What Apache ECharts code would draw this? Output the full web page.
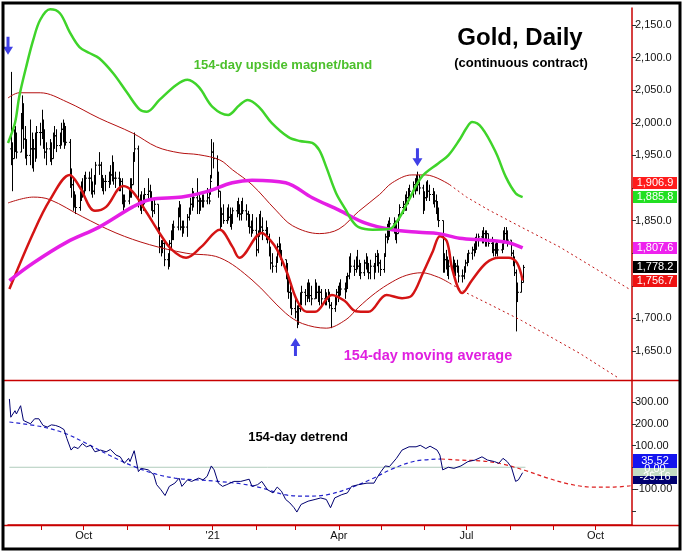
<!DOCTYPE html>
<html><head><meta charset="utf-8">
<script src="https://cdn.jsdelivr.net/npm/echarts@6/dist/echarts.min.js"></script>
<style>html,body{margin:0;padding:0;background:#fff}#c{width:684px;height:553px}</style>
</head><body><div id="c"></div>
<script>
const FONT = '"Liberation Sans", Arial, Helvetica, sans-serif';

// ---- daily price bars (one entry per weekday from startDate) ----
const startDate = '2020-08-10';
const highs = [
2078,1970,1990,1995,1985, 2015,2042,2030,1995,1975, 2005,1985,1975,1985,1995, 2000,2020,2005,1990,1970,
1975,1970,1985,1995,1990, 1985,2000,2005,2000,1995, 1975,1930,1915,1895,1890, 1895,1910,1915,1920,1925,
1925,1930,1910,1920,1940, 1955,1940,1920,1915,1920, 1925,1935,1950,1940,1925, 1925,1915,1915,1890,1890,
1900,1915,1915,1955,1985, 1965,1890,1895,1890,1900, 1915,1905,1895,1880,1885, 1875,1840,1820,1820,1820,
1800,1820,1835,1845,1850, 1870,1880,1875,1850,1850, 1860,1870,1885,1900,1895, 1915,1890,1885,1890,1890,
1900,1895,1920,1975,1970, 1950,1925,1895,1870,1875, 1870,1875,1870,1860,1870, 1880,1885,1875,1880,1885,
1875,1865,1860,1850,1860, 1855,1835,1860,1865,1855, 1850,1840,1830,1810,1800, 1795,1815,1825,1815,1805,
1790,1785,1760,1750,1740, 1730,1720,1725,1740,1750, 1745,1755,1760,1755,1750, 1760,1755,1750,1750,1745,
1745,1740,1745,1740,1725, 1735,1745,1750,1755,1760, 1755,1765,1770,1795,1800, 1790,1795,1805,1790,1785,
1790,1800,1795,1785,1790, 1785,1800,1805,1800,1790, 1800,1830,1845,1850,1855, 1855,1850,1845,1860,1875,
1880,1890,1895,1900,1905, 1910,1915,1920,1925,1920, 1905,1895,1910,1912,1905, 1900,1895,1890,1880,1870,
1850,1800,1805,1795,1790, 1795,1790,1785,1790,1780, 1775,1780,1790,1800,1805, 1810,1815,1825,1830,1830,
1835,1840,1835,1835,1830, 1825,1820,1815,1820,1815, 1815,1835,1840,1840,1835, 1820,1805,1795,1775,1755,
1765,1782];
const lows = [
1935,1895,1945,1955,1945, 1955,1990,1960,1945,1935, 1935,1930,1925,1940,1945, 1965,1975,1960,1945,1935,
1940,1935,1945,1960,1955, 1960,1965,1970,1960,1965, 1900,1885,1865,1870,1860, 1865,1880,1885,1890,1895,
1895,1890,1885,1890,1905, 1920,1900,1895,1890,1895, 1900,1905,1910,1905,1900, 1895,1895,1875,1865,1870,
1875,1885,1885,1905,1940, 1870,1865,1860,1865,1875, 1880,1880,1865,1855,1860, 1830,1800,1795,1800,1780,
1775,1780,1805,1820,1820, 1835,1855,1835,1825,1830, 1825,1850,1860,1865,1870, 1860,1860,1865,1870,1870,
1875,1875,1890,1915,1930, 1900,1885,1836,1840,1845, 1845,1850,1840,1836,1845, 1855,1860,1850,1850,1860,
1850,1840,1830,1825,1830, 1795,1800,1825,1830,1820, 1820,1815,1795,1775,1770, 1770,1785,1795,1790,1780,
1760,1740,1730,1715,1705, 1700,1685,1690,1710,1720, 1720,1725,1730,1725,1720, 1730,1730,1725,1720,1720,
1720,1720,1725,1715,1685, 1710,1720,1725,1730,1735, 1730,1740,1745,1760,1770, 1765,1770,1775,1765,1760,
1765,1775,1770,1760,1760, 1760,1770,1780,1770,1765, 1770,1795,1815,1820,1825, 1830,1820,1815,1830,1850,
1860,1865,1865,1875,1880, 1885,1890,1895,1895,1890, 1860,1865,1880,1885,1880, 1875,1870,1860,1850,1840,
1770,1770,1775,1765,1760, 1770,1765,1765,1770,1755, 1755,1760,1770,1780,1785, 1790,1795,1800,1805,1810,
1815,1815,1810,1810,1810, 1800,1795,1795,1800,1795, 1800,1805,1815,1815,1810, 1795,1780,1765,1680,1725,
1740,1755];
const closes = [
1960,1945,1970,1965,1955, 2000,2025,1975,1965,1950, 1960,1945,1960,1950,1985, 1985,1995,1970,1955,1960,
1955,1945,1975,1980,1965, 1975,1990,1985,1975,1970, 1915,1905,1875,1880,1870, 1885,1900,1895,1910,1915,
1915,1900,1895,1910,1935, 1935,1910,1905,1910,1910, 1915,1920,1935,1915,1915, 1905,1910,1880,1875,1880,
1895,1910,1905,1950,1960, 1875,1880,1870,1880,1890, 1895,1890,1870,1865,1875, 1835,1810,1810,1815,1790,
1780,1815,1830,1840,1840, 1865,1870,1840,1835,1840, 1855,1860,1875,1890,1885, 1880,1875,1880,1885,1880,
1885,1880,1910,1955,1945, 1915,1895,1850,1860,1850, 1860,1855,1845,1850,1865, 1870,1865,1860,1875,1865,
1860,1850,1840,1845,1835, 1805,1830,1850,1840,1835, 1830,1825,1800,1785,1780, 1790,1810,1805,1800,1790,
1770,1750,1740,1725,1715, 1710,1700,1715,1730,1740, 1735,1745,1740,1735,1730, 1750,1740,1735,1740,1730,
1735,1730,1740,1720,1715, 1730,1740,1735,1750,1745, 1745,1760,1765,1785,1780, 1775,1790,1780,1775,1770,
1785,1780,1775,1770,1780, 1775,1795,1790,1785,1775, 1795,1825,1835,1830,1845, 1840,1835,1830,1855,1870,
1875,1880,1885,1890,1895, 1905,1900,1910,1905,1900, 1870,1885,1900,1895,1890, 1885,1880,1870,1860,1850,
1780,1790,1785,1775,1780, 1785,1775,1780,1780,1765, 1765,1775,1785,1795,1800, 1805,1810,1815,1820,1825,
1825,1830,1820,1830,1815, 1810,1805,1800,1815,1805, 1810,1825,1830,1825,1820, 1800,1790,1770,1735,1740,
1755,1778.2];

// ---- overlay curves ----
const magnetBand = [
['2020-08-08',1969],['2020-08-13',2000],['2020-08-16',2040],['2020-08-21',2086],['2020-08-26',2127],['2020-08-31',2158],
['2020-09-07',2174],['2020-09-14',2168],['2020-09-21',2139],['2020-09-28',2116],['2020-10-05',2107],['2020-10-12',2099],
['2020-10-22',2076],['2020-11-01',2046],['2020-11-10',2020],['2020-11-15',2017],['2020-11-24',2035],['2020-12-06',2058],
['2020-12-14',2066],['2020-12-22',2055],['2021-01-01',2024],['2021-01-12',2012],['2021-01-20',2027],['2021-01-26',2035],
['2021-02-03',2024],['2021-02-12',2000],['2021-02-24',1978],['2021-03-04',1972],['2021-03-13',1969],['2021-03-18',1958],
['2021-03-23',1932],['2021-03-30',1892],['2021-04-06',1866],['2021-04-10',1851],['2021-04-15',1840],['2021-04-25',1836],
['2021-05-07',1837],['2021-05-14',1854],['2021-05-21',1882],['2021-05-30',1917],['2021-06-11',1938],['2021-06-18',1950],
['2021-06-26',1974],['2021-07-01',1992],['2021-07-05',2001],['2021-07-12',1992],['2021-07-22',1954],['2021-07-29',1917],
['2021-08-05',1892],['2021-08-10',1886]];
const upperBand = [
['2020-08-08',2038],['2020-08-16',2046],['2020-08-31',2046],['2020-09-19',2032],['2020-10-12',2007],['2020-11-05',1984],
['2020-11-22',1963],['2020-12-08',1954],['2020-12-22',1951],['2021-01-06',1943],['2021-01-15',1928],['2021-01-29',1905],
['2021-02-15',1866],['2021-02-27',1842],['2021-03-18',1830],['2021-04-01',1837],['2021-04-15',1864],['2021-04-30',1890],
['2021-05-09',1908],['2021-05-23',1920],['2021-06-02',1920],['2021-06-19',1905]];
const upperProjection = [['2021-06-19',1905],['2021-07-01',1886],['2021-07-17',1866],['2021-08-09',1840],['2021-09-05',1810],['2021-10-25',1745]];
const lowerBand = [
['2020-08-08',1877],['2020-08-26',1886],['2020-09-07',1882],['2020-09-30',1856],['2020-10-24',1831],['2020-11-17',1813],
['2020-12-13',1800],['2021-01-06',1793],['2021-01-29',1759],['2021-02-22',1708],['2021-03-06',1692],['2021-03-23',1685],
['2021-04-06',1698],['2021-04-15',1717],['2021-04-27',1739],['2021-05-09',1756],['2021-05-19',1766],['2021-05-30',1770],
['2021-06-11',1763],['2021-06-19',1754]];
const lowerProjection = [['2021-06-19',1754],['2021-07-01',1739],['2021-07-17',1722],['2021-08-09',1697],['2021-09-20',1646],['2021-10-17',1609]];
const cycleLine = [
['2020-08-09',1745],['2020-08-26',1831],['2020-09-07',1882],['2020-09-21',1920],['2020-09-28',1902],['2020-10-09',1865],
['2020-10-17',1871],['2020-10-29',1903],['2020-11-05',1894],['2020-11-15',1862],['2020-11-24',1831],['2020-12-03',1805],
['2020-12-13',1793],['2020-12-24',1810],['2021-01-06',1836],['2021-01-15',1810],['2021-01-20',1793],['2021-02-05',1831],
['2021-02-11',1820],['2021-02-16',1805],['2021-02-23',1770],['2021-03-02',1728],['2021-03-09',1710],['2021-03-15',1710],
['2021-03-27',1736],['2021-04-05',1727],['2021-04-13',1711],['2021-04-22',1710],['2021-05-05',1736],['2021-05-16',1731],
['2021-05-23',1735],['2021-05-31',1770],['2021-06-07',1803],['2021-06-12',1826],['2021-06-17',1818],['2021-06-21',1774],
['2021-06-28',1739],['2021-07-05',1759],['2021-07-15',1785],['2021-07-24',1793],['2021-07-31',1793],['2021-08-06',1785],
['2021-08-10',1758]];
const movingAverage = [
['2020-08-09',1758],['2020-08-26',1785],['2020-09-19',1817],['2020-10-12',1840],['2020-11-05',1871],['2020-11-17',1882],
['2020-12-10',1886],['2020-12-27',1894],['2021-01-15',1908],['2021-01-29',1912],['2021-02-22',1908],['2021-03-13',1885],
['2021-04-01',1866],['2021-04-20',1846],['2021-05-09',1836],['2021-05-28',1832],['2021-06-11',1830],['2021-06-26',1823],
['2021-07-15',1820],['2021-07-31',1816],['2021-08-10',1808]];

// ---- detrend panel ----
const detrend = [
['2020-08-09',314],['2020-08-10',230],['2020-08-13',260],['2020-08-14',245],['2020-08-17',283],['2020-08-19',215],
['2020-08-24',200],['2020-08-27',223],['2020-08-30',223],['2020-09-02',192],['2020-09-05',185],['2020-09-08',195],
['2020-09-11',192],['2020-09-14',185],['2020-09-17',173],['2020-09-19',132],['2020-09-22',79],['2020-09-24',94],
['2020-09-27',86],['2020-09-30',109],['2020-10-03',94],['2020-10-06',101],['2020-10-09',71],['2020-10-13',79],
['2020-10-17',71],['2020-10-20',82],['2020-10-24',56],['2020-10-27',48],['2020-10-30',18],['2020-11-02',41],
['2020-11-03',26],['2020-11-06',76],['2020-11-09',-20],['2020-11-11',-5],['2020-11-16',-12],['2020-11-20',-35],
['2020-11-22',-80],['2020-11-25',-103],['2020-11-28',-130],['2020-12-01',-88],['2020-12-05',-73],['2020-12-08',-50],
['2020-12-10',-88],['2020-12-14',-58],['2020-12-17',-65],['2020-12-22',-50],['2020-12-25',-58],['2020-12-28',-42],
['2020-12-31',6],['2021-01-02',-12],['2021-01-05',-73],['2021-01-08',-88],['2021-01-11',-80],['2021-01-16',-65],
['2021-01-21',-65],['2021-01-27',-55],['2021-01-29',-88],['2021-02-02',-80],['2021-02-05',-65],['2021-02-09',-103],
['2021-02-13',-118],['2021-02-16',-91],['2021-02-19',-110],['2021-02-22',-148],['2021-02-25',-164],['2021-02-28',-186],
['2021-03-02',-206],['2021-03-05',-171],['2021-03-10',-156],['2021-03-15',-148],['2021-03-19',-141],['2021-03-23',-148],
['2021-03-26',-186],['2021-03-29',-141],['2021-04-03',-126],['2021-04-07',-118],['2021-04-10',-88],['2021-04-15',-80],
['2021-04-21',-73],['2021-04-26',-73],['2021-04-28',-50],['2021-05-01',-20],['2021-05-04',6],['2021-05-07',3],
['2021-05-12',41],['2021-05-16',79],['2021-05-21',94],['2021-05-26',94],['2021-05-29',101],['2021-06-02',86],
['2021-06-05',97],['2021-06-10',79],['2021-06-12',56],['2021-06-14',-12],['2021-06-18',0],['2021-06-22',-5],
['2021-06-27',6],['2021-07-02',26],['2021-07-07',33],['2021-07-12',48],['2021-07-16',33],['2021-07-21',26],
['2021-07-24',18],['2021-07-27',41],['2021-07-30',26],['2021-08-02',0],['2021-08-05',-65],['2021-08-07',-58],
['2021-08-10',-25]];
const detrendSmooth = [
['2020-08-09',208],['2020-09-02',185],['2020-09-18',155],['2020-10-03',109],['2020-10-19',56],['2020-11-03',11],
['2020-11-19',-27],['2020-12-05',-50],['2020-12-21',-58],['2021-01-05',-65],['2021-01-21',-76],['2021-02-05',-95],
['2021-02-21',-126],['2021-03-09',-133],['2021-03-24',-126],['2021-04-09',-95],['2021-04-24',-55],['2021-05-10',-5],
['2021-05-26',29],['2021-06-13',38]];
const detrendProjection = [
['2021-06-13',38],['2021-06-26',33],['2021-07-12',29],['2021-07-27',14],['2021-08-12',-15],['2021-08-28',-50],
['2021-09-12',-77],['2021-09-28',-91],['2021-10-14',-91],['2021-10-26',-85]];
const zeroLine = [['2020-08-09',0],['2021-08-12',0]];

// ---- ticks, labels, markers ----
const priceTicks = [1650,1700,1750,1800,1850,1900,1950,2000,2050,2100,2150];
const priceTickLabels = [1650,1700,1850,1950,2000,2050,2100,2150];
const detrendTicks = [300,200,100,0,-100,-200];
const detrendTickLabels = [300,200,100,-100];
const monthTicks = ['2020-09-01','2020-10-01','2020-11-01','2020-12-01','2021-01-01','2021-02-01','2021-03-01',
  '2021-04-01','2021-05-01','2021-06-01','2021-07-01','2021-08-01','2021-09-01','2021-10-01'];
const quarterLabels = {'2020-10-01':'Oct','2021-01-01':"'21",'2021-04-01':'Apr','2021-07-01':'Jul','2021-10-01':'Oct'};
const priceEndValues = [1906.9, 1885.8, 1807.6, 1778.2, 1756.7];
const priceEndColors = ['#ff1c1c', '#22e022', '#ee22ee', '#000000', '#ee1212'];
const detrendEndValues = [-25.16, 0, 35.52];
const detrendEndColors = ['#000070', '#c4dcc4', '#1414ee'];
const downArrows = [['2020-08-08',2118],['2021-05-27',1947]];
const upArrows = [['2021-03-01',1656]];

// ---- build ----
function pad(n){return String(n).padStart(2,'0');}
function ts(s){ return new Date(s+'T00:00:00').getTime(); }
function fmtDate(d){return d.getFullYear()+'-'+pad(d.getMonth()+1)+'-'+pad(d.getDate());}
function toXY(arr){ return arr.map(p => [ts(p[0]), p[1]]); }
const tradeDates = [];
(function(){ const d = new Date(startDate+'T00:00:00');
  while (tradeDates.length < closes.length) { const w = d.getDay(); if (w !== 0 && w !== 6) tradeDates.push(fmtDate(d)); d.setDate(d.getDate()+1); } })();
const bars = tradeDates.map((t,i) => {
  let o = i ? closes[i-1] : closes[0];
  o = Math.min(highs[i], Math.max(lows[i], o));
  return [ts(t), o, highs[i], lows[i], closes[i]];
});

function fmtPrice(v){ return v.toLocaleString('en-US',{minimumFractionDigits:1, maximumFractionDigits:1}); }

const chart = echarts.init(document.getElementById('c'), null, {renderer:'canvas'});
const RED_AX = '#c80000';
const X_MIN = ts('2020-08-08'), X_MAX = ts('2021-10-27');

function line(data, color, width, extra){
  return Object.assign({type:'line', data:toXY(data), showSymbol:false, symbol:'none', smooth:0.35, silent:true,
    lineStyle:{color, width}, xAxisIndex:0, yAxisIndex:0, animation:false}, extra||{});
}
const arrowPath = 'path://M3.5,0 L6.5,0 L6.5,10 L10,10 L5,18 L0,10 L3.5,10 Z';

chart.setOption({
  animation:false,
  backgroundColor:'#ffffff',
  textStyle:{fontFamily:FONT},
  grid:[{left:8, right:52, top:8, height:372}, {left:8, right:52, top:381, height:144}],
  xAxis:[
    {type:'value', gridIndex:0, min:X_MIN, max:X_MAX, show:false},
    {type:'value', gridIndex:1, min:X_MIN, max:X_MAX,
     axisLine:{show:true, onZero:false, lineStyle:{color:RED_AX, width:1.5}},
     axisTick:{show:true, length:5, customValues:monthTicks.map(ts), lineStyle:{color:RED_AX}},
     axisLabel:{customValues:Object.keys(quarterLabels).map(ts), fontSize:11, color:'#111', fontFamily:FONT, margin:5,
       formatter:function(v){ const d=new Date(v); const k=d.getFullYear()+'-'+pad(d.getMonth()+1)+'-01'; return quarterLabels[k]||''; }},
     splitLine:{show:false}}
  ],
  yAxis:[
    {type:'value', gridIndex:0, position:'right', min:1605.5, max:2176,
     axisLine:{show:true, onZero:false, lineStyle:{color:RED_AX, width:1.5}},
     axisTick:{show:true, length:4, customValues:priceTicks, lineStyle:{color:'#333'}},
     axisLabel:{customValues:priceTickLabels, fontSize:11, color:'#111', fontFamily:FONT, margin:3,
       formatter:function(v){ return v%50===0 ? fmtPrice(v) : ''; }},
     splitLine:{show:false}},
    {type:'value', gridIndex:1, position:'right', min:-265.5, max:396.6,
     axisLine:{show:true, onZero:false, lineStyle:{color:RED_AX, width:1.5}},
     axisTick:{show:true, length:4, customValues:detrendTicks, lineStyle:{color:'#333'}},
     axisLabel:{customValues:detrendTickLabels, fontSize:11, color:'#111', fontFamily:FONT, margin:3,
       formatter:function(v){ return v%100===0 ? v.toFixed(2) : ''; }},
     splitLine:{show:false}}
  ],
  series:[
    {type:'custom', xAxisIndex:0, yAxisIndex:0, data:bars, silent:true, z:2,
     encode:{x:0, y:[1,2,3,4]},
     renderItem:function(params, api){
       const t = api.value(0);
       const pH = api.coord([t, api.value(2)]), pL = api.coord([t, api.value(3)]);
       const yO = api.coord([t, api.value(1)])[1], yC = api.coord([t, api.value(4)])[1];
       const x = Math.round(pH[0]) + 0.5;
       const st = {stroke:'#000', lineWidth:1};
       return {type:'group', children:[
         {type:'line', shape:{x1:x, y1:pH[1], x2:x, y2:pL[1]}, style:st},
         {type:'line', shape:{x1:x-1.5, y1:yO, x2:x, y2:yO}, style:st},
         {type:'line', shape:{x1:x, y1:yC, x2:x+1.5, y2:yC}, style:st}
       ]};
     }},
    line(upperBand, '#b41010', 1, {z:3}),
    line(lowerBand, '#b41010', 1, {z:3}),
    line(upperProjection, '#c01010', 1, {z:3, smooth:false, lineStyle:{color:'#c01010', width:1, type:[2,3]}}),
    line(lowerProjection, '#c01010', 1, {z:3, smooth:false, lineStyle:{color:'#c01010', width:1, type:[2,3]}}),
    line(cycleLine, '#d41414', 2.5, {z:4}),
    line(movingAverage, '#e51ee5', 3.5, {z:5}),
    line(magnetBand, '#3fd42a', 2.5, {z:6}),
    {type:'scatter', xAxisIndex:0, yAxisIndex:0, data:toXY(downArrows), symbol:arrowPath, symbolSize:[10,18],
     itemStyle:{color:'#1010e0'}, silent:true, z:7},
    {type:'scatter', xAxisIndex:0, yAxisIndex:0, data:toXY(upArrows), symbol:arrowPath, symbolSize:[10,18], symbolRotate:180,
     itemStyle:{color:'#1010e0'}, silent:true, z:7},
    line(zeroLine, '#b0ccbc', 1, {xAxisIndex:1, yAxisIndex:1, smooth:false, z:2}),
    line(detrendSmooth, '#2222cc', 1.2, {xAxisIndex:1, yAxisIndex:1, z:3, lineStyle:{color:'#2222cc', width:1.2, type:[4,3]}}),
    line(detrendProjection, '#dd2020', 1.2, {xAxisIndex:1, yAxisIndex:1, z:3, lineStyle:{color:'#dd2020', width:1.2, type:[4,3]}}),
    line(detrend, '#000070', 1, {xAxisIndex:1, yAxisIndex:1, smooth:false, z:4})
  ]
});

// ---- overlay texts, frame, end-value boxes ----
const g = [];
function txt(text, x, y, font, fill){ g.push({type:'text', silent:true, z:50, style:{text, x, y, font, fill, align:'center', verticalAlign:'middle'}}); }
function box(value, color, axisIdx, label, shift, h){
  const y = Math.round(chart.convertToPixel({yAxisIndex:axisIdx}, value) + (shift||0));
  h = h || 12;
  g.push({type:'rect', silent:true, z:60, shape:{x:633, y:y-h/2, width:44, height:h}, style:{fill:color}});
  g.push({type:'text', silent:true, z:61, style:{text:label, x:655, y:y, font:'11px '+FONT, fill:'#fff', align:'center', verticalAlign:'middle'}});
}
g.push({type:'line', silent:true, z:40, shape:{x1:3, y1:380.5, x2:681, y2:380.5}, style:{stroke:RED_AX, lineWidth:1.5}});
g.push({type:'line', silent:true, z:40, shape:{x1:3, y1:525.5, x2:681, y2:525.5}, style:{stroke:RED_AX, lineWidth:1.5}});
g.push({type:'rect', silent:true, z:70, shape:{x:3, y:3, width:677, height:546}, style:{fill:null, stroke:'#000', lineWidth:3}});
txt('Gold, Daily', 520, 38, 'bold 24px '+FONT, '#000');
txt('(continuous contract)', 521, 63, 'bold 13px '+FONT, '#000');
txt('154-day upside magnet/band', 283, 65, 'bold 13px '+FONT, '#4cc02c');
txt('154-day moving average', 428, 356, 'bold 14.5px '+FONT, '#e020e0');
txt('154-day detrend', 298, 437, 'bold 13px '+FONT, '#000');
priceEndValues.forEach((v,i) => box(v, priceEndColors[i], 0, fmtPrice(v)));
const detrendBoxShift = [4, 1.5, 1.5];
detrendEndValues.forEach((v,i) => box(v, detrendEndColors[i], 1, v.toFixed(2), detrendBoxShift[i], 14));
chart.setOption({graphic:g});
</script></body></html>
